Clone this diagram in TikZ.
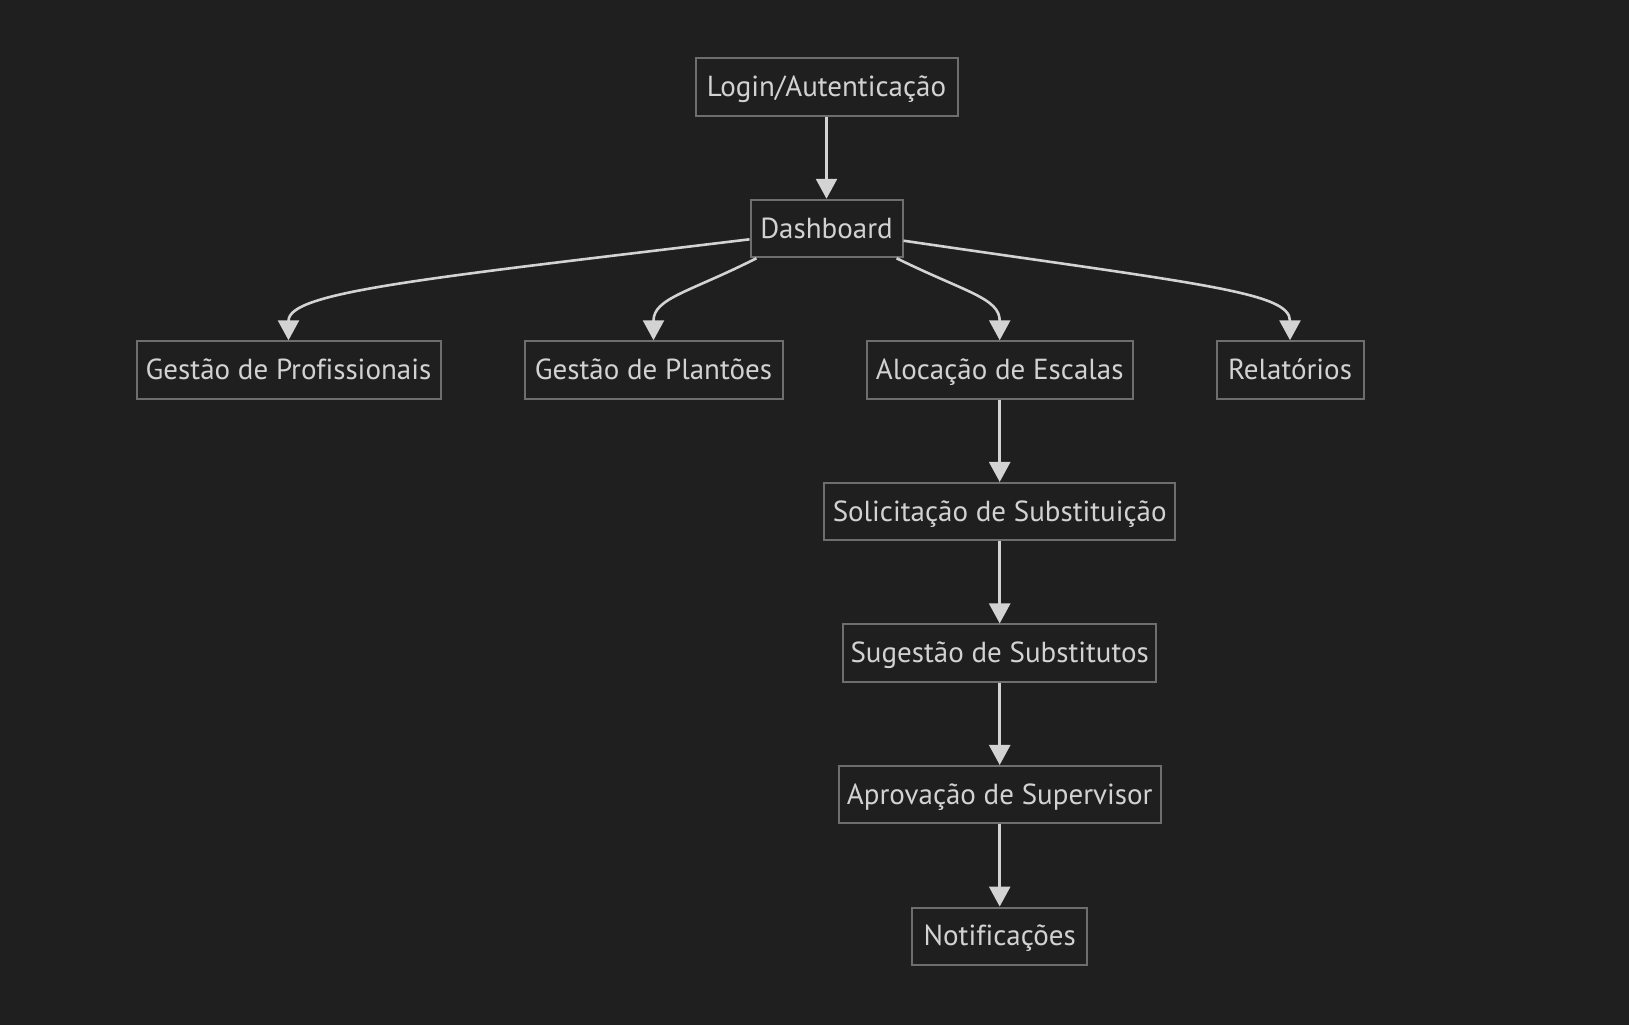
\documentclass[tikz,border=0pt]{standalone}
\usepackage{fontspec}
\setmainfont{PT Sans}[Ligatures=CommonOff]
\usetikzlibrary{arrows.meta}
\definecolor{bgcol}{HTML}{1F1F1F}
\definecolor{boxline}{HTML}{6E6E6E}
\definecolor{txtcol}{HTML}{D2D2D2}
\definecolor{edgecol}{HTML}{D3D3D3}
\tikzset{
  box/.style={draw=boxline, line width=1pt, fill=bgcol, text=txtcol,
    font=\fontsize{14.5}{17}\selectfont, minimum height=28.75pt, inner xsep=3pt,
    text height=10.5pt, text depth=1pt},
  flow/.style={draw=edgecol, line width=1.3pt, -{Triangle[length=10pt,width=10.5pt]}}
}
\begin{document}
\begin{tikzpicture}[x=0.5pt,y=-0.5pt]
  \fill[bgcol] (0,0) rectangle (1629,1025);
  \useasboundingbox (0,0) rectangle (1629,1025);
  % top
  \node[box, minimum width=131pt] (login) at (826.5,87) {Login/Autenticação};
  \node[box, minimum width=76pt] (dash) at (826.5,228.5) {Dashboard};
  % modules
  \node[box, minimum width=152pt] (prof) at (288.5,370) {Gestão de Profissionais};
  \node[box, minimum width=129pt] (plant) at (653.5,370) {Gestão de Plantões};
  \node[box, minimum width=133pt] (aloc) at (999.7,370) {Alocação de Escalas};
  \node[box, minimum width=73.5pt] (rel) at (1290,370) {Relatórios};
  % substituicao
  \node[box, minimum width=175.5pt] (solic) at (999.7,511.7) {Solicitação de Substituição};
  \node[box, minimum width=156.5pt] (suges) at (999.7,653.2) {Sugestão de Substitutos};
  \node[box, minimum width=161pt] (aprov) at (999.7,794.7) {Aprovação de Supervisor};
  \node[box, minimum width=87.5pt] (notif) at (999.7,936.3) {Notificações};
  % edges
  \draw[flow] (login) -- (dash);
  \draw[flow] (dash.-172) .. controls (420,279) and (288.5,292) .. (prof.north);
  \draw[flow] (dash.-157) .. controls (690,292) and (653.5,298) .. (plant.north);
  \draw[flow] (dash.-23) .. controls (965,292) and (999.7,298) .. (aloc.north);
  \draw[flow] (dash.-9) .. controls (1200,284) and (1290,292) .. (rel.north);
  \draw[flow] (aloc) -- (solic);
  \draw[flow] (solic) -- (suges);
  \draw[flow] (suges) -- (aprov);
  \draw[flow] (aprov) -- (notif);
\end{tikzpicture}
\end{document}
